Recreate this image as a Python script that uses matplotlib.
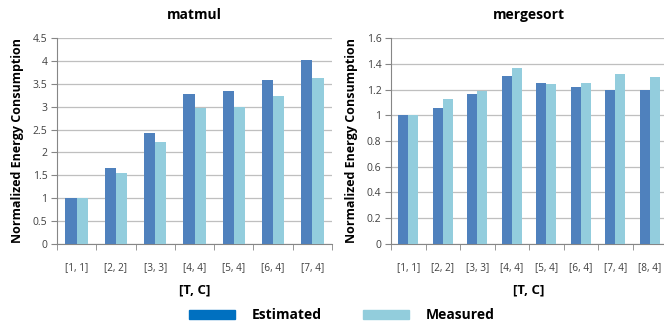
import numpy as np
import matplotlib.pyplot as plt
from matplotlib.patches import Patch

# data
matmul_labels = ['[1, 1]', '[2, 2]', '[3, 3]', '[4, 4]', '[5, 4]', '[6, 4]', '[7, 4]']
matmul_estimated = [1.0, 1.66, 2.43, 3.27, 3.35, 3.59, 4.02]
matmul_measured = [1.0, 1.55, 2.23, 2.97, 3.0, 3.24, 3.63]

merge_labels = ['[1, 1]', '[2, 2]', '[3, 3]', '[4, 4]', '[5, 4]', '[6, 4]', '[7, 4]', '[8, 4]']
merge_estimated = [1.0, 1.06, 1.165, 1.307, 1.252, 1.22, 1.20, 1.197]
merge_measured = [1.0, 1.127, 1.19, 1.367, 1.245, 1.25, 1.325, 1.30]

plt.rcParams['font.family'] = ['Open Sans', 'DejaVu Sans']

c_est = '#4F81BD'
c_meas = '#93CDDD'
c_est_leg = '#0070C0'
c_meas_leg = '#92CDDC'
grid_c = '#BFBFBF'
text_c = '#404040'

fig = plt.figure(figsize=(6.64, 3.24), dpi=100)
ax1 = fig.add_axes([57 / 664, 1 - 243.7 / 324, 275 / 664, 205.4 / 324])
ax2 = fig.add_axes([391 / 664, 1 - 243.7 / 324, 276 / 664, 205.4 / 324])


def draw(ax, labels, est, meas, ymax, ystep, title):
    n = len(labels)
    x = np.arange(n)
    w = 0.285
    ax.bar(x - w / 2, est, w, color=c_est, zorder=3)
    ax.bar(x + w / 2, meas, w, color=c_meas, zorder=3)
    ax.set_xlim(-0.5, n - 0.5)
    ax.set_ylim(0, ymax)
    yt = np.arange(0, ymax + 1e-9, ystep)
    ax.set_yticks(yt)
    ax.set_yticklabels(['%g' % v for v in yt], fontsize=7.5, color=text_c)
    ax.set_xticks(x)
    ax.set_xticklabels(labels, fontsize=7.2, color=text_c)
    ax.set_xticks(np.arange(-0.5, n, 1), minor=True)
    ax.tick_params(axis='x', which='major', length=0, pad=13)
    ax.tick_params(axis='x', which='minor', length=4, color='#868686')
    ax.tick_params(axis='y', length=4, color='#868686', pad=3)
    ax.yaxis.grid(True, color=grid_c, linewidth=0.9, zorder=0)
    for s in ['top', 'right']:
        ax.spines[s].set_visible(False)
    for s in ['left', 'bottom']:
        ax.spines[s].set_color('#868686')
    ax.set_title(title, fontsize=10, fontweight='bold', pad=14)
    ax.set_xlabel('[T, C]', fontsize=9.5, fontweight='bold', labelpad=8)
    ax.set_ylabel('Normalized Energy Consumption', fontsize=9, fontweight='bold', labelpad=6)


draw(ax1, matmul_labels, matmul_estimated, matmul_measured, 4.5, 0.5, 'matmul')
draw(ax2, merge_labels, merge_estimated, merge_measured, 1.6, 0.2, 'mergesort')

# legend at bottom
handles = [Patch(color=c_est_leg, label='Estimated'), Patch(color=c_meas_leg, label='Measured')]
fig.legend(handles=handles, loc='center', bbox_to_anchor=(0.515, 1 - 315 / 324), ncol=2,
           frameon=False, handlelength=3.3, handleheight=0.6, columnspacing=3.0,
           handletextpad=1.2, prop={'weight': 'bold', 'size': 10})

fig.savefig('out.png', dpi=100)
